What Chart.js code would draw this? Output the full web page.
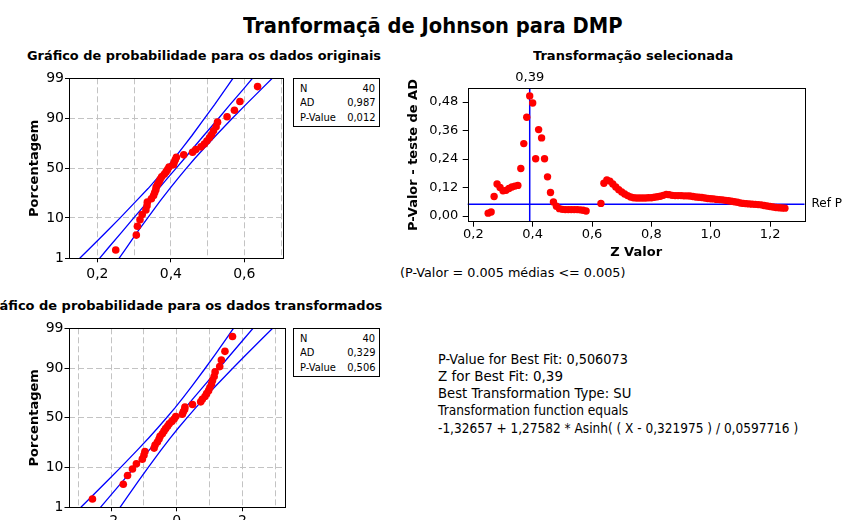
<!DOCTYPE html>
<html>
<head>
<meta charset="utf-8">
<script src="https://cdn.jsdelivr.net/npm/chart.js@4.4.1/dist/chart.umd.min.js"></script>
<style>
html, body { margin: 0; padding: 0; background: #fff; width: 844px; height: 520px; overflow: hidden; }
body { position: relative; font-family: "DejaVu Sans", sans-serif; color: #000; }
canvas { position: absolute; }
.t { position: absolute; white-space: nowrap; line-height: 1; display: inline-block; transform-origin: 0 0; }
.b { font-weight: bold; }
.box { position: absolute; border: 1px solid #000; box-sizing: border-box; width: 87px; height: 49px; }
.s { font-size: 11px; transform: scaleX(0.9); }
.r { transform-origin: 100% 0; }
</style>
</head>
<body>
<div class="t b fit" data-w="380" style="left:243px;top:14.7px;font-size:22px">Tranformaçã de Johnson para DMP</div>

<div class="t b fit" id="sub1" data-w="354" style="left:27px;top:50px;font-size:12.5px">Gráfico de probabilidade para os dados originais</div>
<div class="t b fit" data-w="200" style="left:533px;top:50px;font-size:12.5px">Transformação selecionada</div>
<div class="t b r" id="sub3" style="right:462px;top:300px;font-size:12.5px">Grá<span id="sub3v">fico de probabilidade para os dados transformados</span></div>

<canvas id="orig" width="290" height="230" style="left:0;top:60px"></canvas>
<canvas id="sel" width="449" height="205" style="left:395px;top:60px"></canvas>
<canvas id="trans" width="290" height="230" style="left:0;top:310px"></canvas>

<div class="box" style="left:293px;top:78px"></div>
<div class="t s" style="left:300px;top:83px">N</div>
<div class="t s r" style="right:469px;top:83px">40</div>
<div class="t s" style="left:300px;top:97.4px">AD</div>
<div class="t s r" style="right:469px;top:97.4px">0,987</div>
<div class="t s" style="left:300px;top:112.4px">P-Value</div>
<div class="t s r" style="right:469px;top:112.4px">0,012</div>

<div class="box" style="left:293px;top:328px"></div>
<div class="t s" style="left:300px;top:333px">N</div>
<div class="t s r" style="right:469px;top:333px">40</div>
<div class="t s" style="left:300px;top:347.4px">AD</div>
<div class="t s r" style="right:469px;top:347.4px">0,329</div>
<div class="t s" style="left:300px;top:362.4px">P-Value</div>
<div class="t s r" style="right:469px;top:362.4px">0,506</div>

<div class="t fit" data-w="225" style="left:400px;top:266.3px;font-size:13px">(P-Valor = 0.005 médias &lt;= 0.005)</div>

<div class="t fit" data-w="190" style="left:438.3px;top:351.5px;font-size:14px">P-Value for Best Fit: 0,506073</div>
<div class="t fit" data-w="125" style="left:438.3px;top:368.9px;font-size:14px">Z for Best Fit: 0,39</div>
<div class="t fit" data-w="193" style="left:438.3px;top:385.9px;font-size:14px">Best Transformation Type: SU</div>
<div class="t fit" data-w="190" style="left:438.3px;top:403.2px;font-size:14px">Transformation function equals</div>
<div class="t fit" data-w="360" style="left:438.3px;top:420.5px;font-size:14px">-1,32657 + 1,27582 * Asinh( ( X - 0,321975 ) / 0,0597716 )</div>

<script>
// sorted sample values
const originalData = [0.250, 0.306, 0.309, 0.316, 0.322, 0.332, 0.335, 0.336, 0.347, 0.353,
  0.356, 0.359, 0.360, 0.364, 0.368, 0.371, 0.375, 0.382, 0.387, 0.391,
  0.395, 0.407, 0.409, 0.412, 0.415, 0.435, 0.459, 0.468, 0.482, 0.491,
  0.498, 0.505, 0.511, 0.516, 0.523, 0.527, 0.553, 0.573, 0.588, 0.636];
const transformedData = [-2.57, -1.63, -1.50, -1.35, -1.23, -1.05, -1.00, -0.97, -0.69, -0.66,
  -0.59, -0.54, -0.51, -0.44, -0.39, -0.34, -0.28, -0.23, -0.15, -0.08,
  -0.03, 0.17, 0.20, 0.24, 0.25, 0.48, 0.73, 0.78, 0.86, 0.91,
  0.97, 1.01, 1.06, 1.09, 1.14, 1.17, 1.31, 1.36, 1.47, 1.70];

// fitted line and 95% band, read at these percent levels
const bandPercents = [1, 2, 5, 10, 20, 30, 40, 50, 60, 70, 80, 90, 95, 98, 99];
const origLower = [0.152, 0.181, 0.224, 0.262, 0.306, 0.338, 0.363, 0.386, 0.409, 0.431, 0.457, 0.491, 0.519, 0.549, 0.569];
const origFit   = [0.206, 0.230, 0.267, 0.299, 0.339, 0.367, 0.391, 0.414, 0.437, 0.461, 0.489, 0.529, 0.561, 0.598, 0.622];
const origUpper = [0.259, 0.279, 0.309, 0.337, 0.371, 0.397, 0.420, 0.442, 0.465, 0.491, 0.522, 0.566, 0.604, 0.647, 0.676];
const transLower = [-2.923, -2.600, -2.120, -1.700, -1.202, -0.855, -0.568, -0.310, -0.061, 0.194, 0.481, 0.863, 1.170, 1.507, 1.729];
const transFit   = [-2.326, -2.054, -1.645, -1.282, -0.842, -0.524, -0.253, 0.000, 0.253, 0.524, 0.842, 1.282, 1.645, 2.054, 2.326];
const transUpper = [-1.729, -1.507, -1.170, -0.863, -0.481, -0.194, 0.061, 0.310, 0.568, 0.855, 1.202, 1.700, 2.120, 2.600, 2.923];

const percentTicks = [1, 10, 50, 90, 99];
const percentGrid = [10, 50, 90];
const origGridX = [0.2, 0.3, 0.4, 0.5, 0.6, 0.7];
const origLabelX = [0.2, 0.4, 0.6];
const transGridX = [-3, -2, -1, 0, 1, 2, 3];
const transLabelX = [-2, 0, 2];

// AD p-value for each tried z
const zValues = [0.25, 0.26, 0.27, 0.28, 0.29, 0.30, 0.31, 0.32, 0.33, 0.34, 0.35, 0.36, 0.37, 0.38, 0.39,
  0.40, 0.41, 0.42, 0.43, 0.44, 0.45, 0.46, 0.47, 0.48, 0.49, 0.50, 0.51, 0.52, 0.53, 0.54, 0.55, 0.56, 0.57, 0.58,
  0.63, 0.64, 0.65, 0.66, 0.67, 0.68, 0.69, 0.70, 0.71, 0.72, 0.73, 0.74, 0.75, 0.76, 0.77, 0.78, 0.79,
  0.80, 0.81, 0.82, 0.83, 0.84, 0.85, 0.86, 0.87, 0.88, 0.89, 0.90, 0.91, 0.92, 0.93, 0.94, 0.95, 0.96, 0.97, 0.98, 0.99,
  1.00, 1.01, 1.02, 1.03, 1.04, 1.05, 1.06, 1.07, 1.08, 1.09, 1.10, 1.11, 1.12, 1.13, 1.14, 1.15, 1.16, 1.17, 1.18, 1.19,
  1.20, 1.21, 1.22, 1.23, 1.24, 1.25];
const pValues = [0.012, 0.017, 0.082, 0.135, 0.120, 0.106, 0.108, 0.116, 0.122, 0.126, 0.129, 0.200, 0.305, 0.416, 0.506,
  0.476, 0.241, 0.364, 0.329, 0.241, 0.165, 0.099, 0.059, 0.041, 0.031, 0.028, 0.027, 0.027, 0.027, 0.027, 0.027, 0.026, 0.024, 0.021,
  0.053, 0.138, 0.152, 0.147, 0.135, 0.122, 0.111, 0.101, 0.093, 0.086, 0.080, 0.077, 0.076, 0.076, 0.076, 0.076, 0.077,
  0.077, 0.079, 0.081, 0.083, 0.087, 0.091, 0.090, 0.087, 0.086, 0.086, 0.086, 0.085, 0.085, 0.084, 0.082, 0.080, 0.079, 0.078, 0.076, 0.074,
  0.073, 0.072, 0.070, 0.069, 0.068, 0.066, 0.064, 0.062, 0.060, 0.058, 0.055, 0.053, 0.052, 0.051, 0.050, 0.049, 0.048, 0.047, 0.044, 0.042,
  0.040, 0.038, 0.036, 0.035, 0.034, 0.033];
const zTicks = [0.2, 0.4, 0.6, 0.8, 1.0, 1.2];
const pTicks = [0, 0.12, 0.24, 0.36, 0.48];
const bestZ = 0.39;
const refP = 0.05;

// stretch html text to the widths of the original
document.querySelectorAll('.fit').forEach(el => {
  el.style.transform = 'scaleX(' + (el.dataset.w / el.offsetWidth) + ')';
});
// visible part of the cut-off subtitle runs from x=8 to x=382
const vis = document.getElementById('sub3v');
document.getElementById('sub3').style.transform = 'scaleX(' + (374 / vis.getBoundingClientRect().width) + ')';

// inverse normal cdf (Abramowitz & Stegun 26.2.23) for the probability scale
function qnorm(p) {
  const q = p < 0.5 ? p : 1 - p;
  const t = Math.sqrt(-2 * Math.log(q));
  const z = t - (2.515517 + 0.802853 * t + 0.010328 * t * t) /
    (1 + 1.432788 * t + 0.189269 * t * t + 0.001308 * t * t * t);
  return p < 0.5 ? -z : z;
}
const comma = (v, d) => v.toFixed(d).replace('.', ',');

Chart.defaults.font.family = '"DejaVu Sans", sans-serif';
Chart.defaults.color = '#000';

const RED = '#ff0000', BLUE = '#0000ff', GRID = '#c3c3c3';

const frame = {
  id: 'frame',
  afterDraw(chart) {
    const a = chart.chartArea, c = chart.ctx;
    c.save();
    c.strokeStyle = '#000';
    c.lineWidth = 1;
    c.strokeRect(Math.round(a.left) + 0.5, Math.round(a.top) + 0.5, Math.round(a.right - a.left), Math.round(a.bottom - a.top));
    c.restore();
  }
};

function probChart(id, values, lower, fit, upper, gridX, labelX, xMin, xMax, L) {
  const n = values.length;
  // median ranks
  const pts = values.map((v, i) => ({ x: v, y: qnorm((i + 0.7) / (n + 0.4)) }));
  const lineSet = arr => ({
    type: 'line',
    data: bandPercents.map((p, i) => ({ x: arr[i], y: qnorm(p / 100) })),
    pointRadius: 0, borderColor: BLUE, borderWidth: 1.3, tension: 0, fill: false
  });
  return new Chart(document.getElementById(id), {
    type: 'scatter',
    data: {
      datasets: [
        { data: pts, pointRadius: 3.8, pointBackgroundColor: RED, pointBorderColor: RED, pointBorderWidth: 0 },
        lineSet(lower), lineSet(fit), lineSet(upper)
      ]
    },
    options: {
      responsive: false,
      animation: false,
      layout: { padding: { top: L.top, right: L.right, left: 0, bottom: 0 } },
      plugins: { legend: { display: false }, tooltip: { enabled: false } },
      scales: {
        x: {
          type: 'linear', min: xMin, max: xMax,
          afterBuildTicks: s => { s.ticks = gridX.map(v => ({ value: v })); },
          afterFit: s => { s.height = L.xh; },
          grid: {
            color: GRID, lineWidth: 1, tickLength: 4, tickWidth: 1, tickBorderDash: [],
            tickColor: c => (c.tick && labelX.includes(c.tick.value)) ? '#000' : 'rgba(0,0,0,0)'
          },
          border: { display: false, dash: [6, 3] },
          ticks: {
            autoSkip: false, maxRotation: 0, padding: L.xpad, font: { size: 14 },
            callback: v => labelX.includes(v) ? String(v).replace('.', ',') : ''
          }
        },
        y: {
          type: 'linear', min: qnorm(0.01), max: qnorm(0.99),
          afterBuildTicks: s => { s.ticks = percentTicks.map(p => ({ value: qnorm(p / 100) })); },
          afterFit: s => { s.width = L.yw; },
          grid: {
            lineWidth: 1, tickLength: 4, tickWidth: 1, tickBorderDash: [], tickColor: '#000',
            color: c => percentGrid.includes(percentTicks[c.index]) ? GRID : 'rgba(0,0,0,0)'
          },
          border: { display: false, dash: [6, 3] },
          ticks: { autoSkip: false, padding: 1, font: { size: 14 }, callback: (v, i) => String(percentTicks[i]) },
          title: { display: true, text: 'Porcentagem', font: { size: 13, weight: 'bold' }, padding: { top: 27.2, bottom: 0 } }
        }
      }
    },
    plugins: [frame]
  });
}

probChart('orig', originalData, origLower, origFit, origUpper, origGridX, origLabelX, 0.1228, 0.706,
  { top: 18.3, right: 6.7, xh: 31.7, yw: 69, xpad: 3.3 });
probChart('trans', transformedData, transLower, transFit, transUpper, transGridX, transLabelX, -3.3, 3.27,
  { top: 18.3, right: 6, xh: 32.7, yw: 68.5, xpad: 1.3 });

const zMin = 0.181, zMax = 1.316, pMin = -0.024, pMax = 0.538;
new Chart(document.getElementById('sel'), {
  type: 'scatter',
  data: {
    datasets: [
      { data: zValues.map((z, i) => ({ x: z, y: pValues[i] })), pointRadius: 3.7,
        pointBackgroundColor: RED, pointBorderColor: RED, pointBorderWidth: 0 },
      { data: [{ x: bestZ, y: -1 }, { x: bestZ, y: 1 }], showLine: true, pointRadius: 0, borderColor: BLUE, borderWidth: 1.5 },
      { data: [{ x: 0, y: refP }, { x: 2, y: refP }], showLine: true, pointRadius: 0, borderColor: BLUE, borderWidth: 1.5 }
    ]
  },
  options: {
    responsive: false,
    animation: false,
    layout: { padding: 0 },
    plugins: { legend: { display: false }, tooltip: { enabled: false } },
    scales: {
      x: {
        type: 'linear', position: 'bottom', min: zMin, max: zMax,
        afterBuildTicks: s => { s.ticks = zTicks.map(v => ({ value: v })); },
        afterFit: s => { s.height = 43.3; },
        grid: { drawOnChartArea: false, tickLength: 5, tickColor: '#000', tickWidth: 1 },
        border: { display: false },
        ticks: { autoSkip: false, maxRotation: 0, padding: 0, font: { size: 13 }, callback: v => comma(v, 1) },
        title: { display: true, text: 'Z Valor', font: { size: 13, weight: 'bold' }, padding: { top: 0, bottom: 4.2 } }
      },
      x2: {
        type: 'linear', position: 'top', min: zMin, max: zMax,
        afterBuildTicks: s => { s.ticks = [{ value: bestZ }]; },
        afterFit: s => { s.height = 28.3; },
        grid: { display: false, drawTicks: false },
        border: { display: false },
        ticks: { autoSkip: false, maxRotation: 0, padding: 3, font: { size: 13 }, callback: v => comma(v, 2) }
      },
      y: {
        type: 'linear', position: 'left', min: pMin, max: pMax,
        afterBuildTicks: s => { s.ticks = pTicks.map(v => ({ value: v })); },
        afterFit: s => { s.width = 72.7; },
        grid: { drawOnChartArea: false, tickLength: 5, tickColor: '#000', tickWidth: 1 },
        border: { display: false },
        ticks: { autoSkip: false, padding: 4.4, font: { size: 13 }, callback: v => comma(v, 2) },
        title: { display: true, text: 'P-Valor - teste de AD', font: { size: 13, weight: 'bold' }, padding: { top: 11.2, bottom: 0 } }
      },
      y2: {
        type: 'linear', position: 'right', min: pMin, max: pMax,
        afterBuildTicks: s => { s.ticks = [{ value: refP }]; },
        afterFit: s => { s.width = 39.5; },
        grid: { display: false, drawTicks: false },
        border: { display: false },
        ticks: { autoSkip: false, padding: 7, font: { size: 12 }, callback: () => 'Ref P' }
      }
    }
  },
  plugins: [frame]
});
</script>
</body>
</html>
